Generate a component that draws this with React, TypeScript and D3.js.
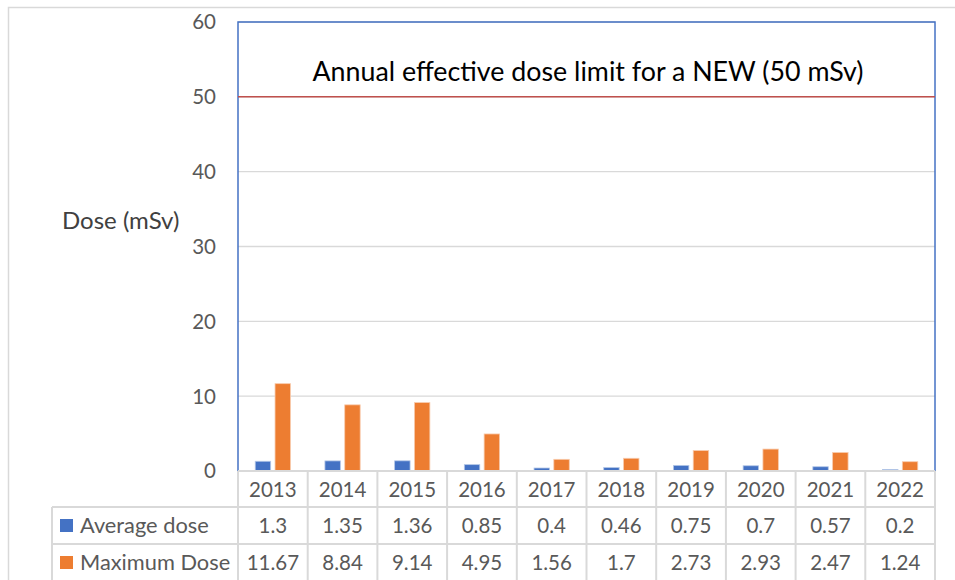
import { scaleBand, scaleLinear } from 'd3';

const years = ['2013', '2014', '2015', '2016', '2017', '2018', '2019', '2020', '2021', '2022'];
const averageDose = [1.3, 1.35, 1.36, 0.85, 0.4, 0.46, 0.75, 0.7, 0.57, 0.2];
const maximumDose = [11.67, 8.84, 9.14, 4.95, 1.56, 1.7, 2.73, 2.93, 2.47, 1.24];
const yTicks = [0, 10, 20, 30, 40, 50, 60];
const doseLimit = 50;
const limitLabel = 'Annual effective dose limit for a NEW (50 mSv)';

const series = [
  { name: 'Average dose', values: averageDose, color: '#4472c4', edge: '#b4c7e7' },
  { name: 'Maximum Dose', values: maximumDose, color: '#ed7d31', edge: '#f8cbad' },
];

const W = 955;
const H = 580;
const M = { left: 238, right: 20, top: 22, zero: 471 };
const ROW = 37;
const FONT = 'Lato, "Open Sans", sans-serif';
const GRID = '#d9d9d9';
const TXT = '#595959';

const App = () => {
  const x = scaleBand<string>().domain(years).range([M.left, W - M.right]).padding(0);
  const inner = scaleBand<string>()
    .domain(series.map((s) => s.name))
    .range([0, x.bandwidth()])
    .paddingInner(0.22)
    .paddingOuter(0.87);
  const y = scaleLinear().domain([0, 60]).range([M.zero, M.top]);

  const plotRight = W - M.right;
  const tableTop = M.zero;
  const legendLeft = 52;

  return (
    <svg
      width={W}
      height={H}
      style={{ position: 'absolute', left: 0, top: 0, display: 'block', background: '#fff' }}
      fontFamily={FONT}
    >
      {/* outer chart frame */}
      <path d={`M8.5,${H} V7.5 H${W}`} fill="none" stroke={GRID} strokeWidth={1.5} />

      {/* gridlines */}
      {yTicks.map((t) => (
        <line key={t} x1={M.left} x2={plotRight} y1={y(t)} y2={y(t)} stroke={GRID} strokeWidth={1.3} />
      ))}

      {/* y tick labels */}
      {yTicks.map((t) => (
        <text key={t} x={216} y={y(t)} dy="0.36em" textAnchor="end" fontSize={20.5} fill={TXT}>
          {t}
        </text>
      ))}

      <text x={62} y={220} dy="0.36em" fontSize={24} fill="#404040">
        Dose (mSv)
      </text>

      {/* bars */}
      {series.map((s) =>
        s.values.map((v, i) => (
          <rect
            key={s.name + i}
            x={(x(years[i]) ?? 0) + (inner(s.name) ?? 0)}
            y={y(v)}
            width={inner.bandwidth()}
            height={y(0) - y(v)}
            fill={s.color}
            stroke={s.edge}
            strokeWidth={0.8}
          />
        ))
      )}

      {/* plot border */}
      <rect
        x={M.left}
        y={M.top}
        width={plotRight - M.left}
        height={M.zero - M.top}
        fill="none"
        stroke="#4472c4"
        strokeWidth={1.5}
      />

      {/* dose limit line */}
      <line x1={M.left} x2={plotRight} y1={y(doseLimit)} y2={y(doseLimit)} stroke="#c0504d" strokeWidth={1.5} />
      <text x={588} y={71} dy="0.36em" textAnchor="middle" fontSize={26.8} fill="#000">
        {limitLabel}
      </text>

      {/* data table */}
      <line x1={M.left} x2={plotRight} y1={tableTop} y2={tableTop} stroke={GRID} strokeWidth={2} />
      {[1, 2].map((r) => (
        <line
          key={r}
          x1={legendLeft}
          x2={plotRight}
          y1={tableTop + r * ROW - 1}
          y2={tableTop + r * ROW - 1}
          stroke={GRID}
          strokeWidth={2}
        />
      ))}
      <line x1={legendLeft} x2={legendLeft} y1={tableTop + ROW - 1} y2={H} stroke={GRID} strokeWidth={2} />
      {years.map((yr) => (
        <line key={yr} x1={x(yr)} x2={x(yr)} y1={tableTop} y2={H} stroke={GRID} strokeWidth={2} />
      ))}
      <line x1={plotRight} x2={plotRight} y1={tableTop} y2={H} stroke={GRID} strokeWidth={2} />

      {years.map((yr) => (
        <text
          key={yr}
          x={(x(yr) ?? 0) + x.bandwidth() / 2}
          y={tableTop + ROW / 2}
          dy="0.36em"
          textAnchor="middle"
          fontSize={20.5}
          fill={TXT}
        >
          {yr}
        </text>
      ))}

      {series.map((s, r) => {
        const cy = tableTop + (r + 1) * ROW + ROW / 2 - 1;
        return (
          <g key={s.name}>
            <rect x={60} y={cy - 6.5} width={13} height={13} fill={s.color} />
            <text x={80} y={cy} dy="0.36em" fontSize={21.8} fill={TXT}>
              {s.name}
            </text>
            {s.values.map((v, i) => (
              <text
                key={i}
                x={(x(years[i]) ?? 0) + x.bandwidth() / 2}
                y={cy}
                dy="0.36em"
                textAnchor="middle"
                fontSize={20.5}
                fill={TXT}
              >
                {v}
              </text>
            ))}
          </g>
        );
      })}
    </svg>
  );
};

export default App;
